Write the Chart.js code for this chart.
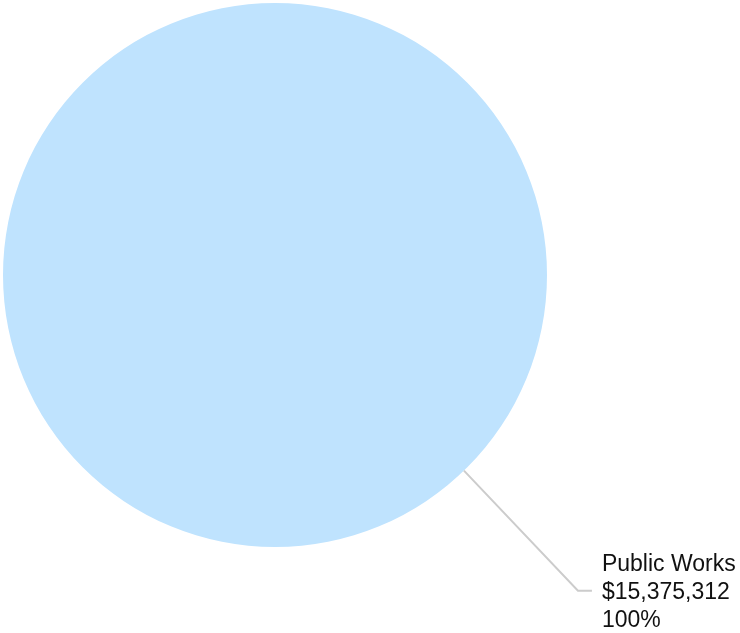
<!DOCTYPE html>
<html>
<head>
<meta charset="utf-8">
<script src="https://cdn.jsdelivr.net/npm/chart.js@4"></script>
<style>
html,body{margin:0;padding:0;background:#fff;}
#wrap{width:740px;height:633px;position:relative;}
</style>
</head>
<body>
<div id="wrap"><canvas id="c" width="740" height="633"></canvas></div>
<script>
const categories = ["Public Works"];
const values = [15375312];
const colors = ["#bfe3fe"];

const total = values.reduce((a, b) => a + b, 0);

const leaderPlugin = {
  id: 'leader',
  afterDatasetsDraw(chart) {
    const ctx = chart.ctx;
    const meta = chart.getDatasetMeta(0);
    meta.data.forEach((arc, i) => {
      const cx = arc.x, cy = arc.y, r = arc.outerRadius;
      const ang = 46 * Math.PI / 180;
      const sx = cx + Math.cos(ang) * r;
      const sy = cy + Math.sin(ang) * r;
      const ex = sx + 114, ey = sy + 120;
      const hx = ex + 14;
      ctx.save();
      ctx.strokeStyle = '#cccccc';
      ctx.lineWidth = 2;
      ctx.beginPath();
      ctx.moveTo(sx, sy);
      ctx.lineTo(ex, ey);
      ctx.lineTo(hx, ey);
      ctx.stroke();
      ctx.fillStyle = '#111111';
      ctx.font = '23px "Liberation Sans", Arial, sans-serif';
      ctx.textAlign = 'left';
      ctx.textBaseline = 'alphabetic';
      const tx = hx + 10;
      const v = values[i];
      const lines = [categories[i], '$' + v.toLocaleString('en-US'), Math.round(v / total * 100) + '%'];
      lines.forEach((t, k) => ctx.fillText(t, tx, ey + 8 + (k - 1) * 28));
      ctx.restore();
    });
  }
};

new Chart(document.getElementById('c'), {
  type: 'pie',
  data: {
    labels: categories,
    datasets: [{ data: values, backgroundColor: colors, borderWidth: 0 }]
  },
  options: {
    responsive: false,
    animation: false,
    layout: { padding: { left: 3, top: 3, right: 193, bottom: 86 } },
    plugins: { legend: { display: false }, tooltip: { enabled: false } }
  },
  plugins: [leaderPlugin]
});
</script>
</body>
</html>
